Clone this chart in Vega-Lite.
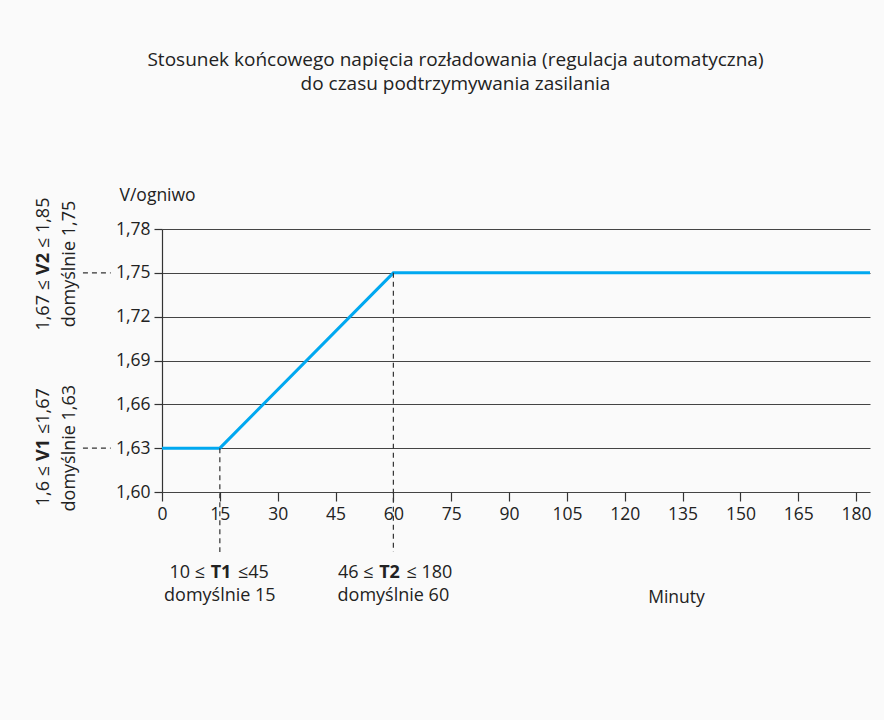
{
  "$schema": "https://vega.github.io/schema/vega-lite/v6.json",
  "autosize": {"type": "none"},
  "width": 708,
  "height": 263,
  "padding": {"left": 162, "top": 229, "right": 14, "bottom": 228},
  "background": "#fafafa",
  "title": {
    "text": ["Stosunek końcowego napięcia rozładowania (regulacja automatyczna)", "do czasu podtrzymywania zasilania"],
    "anchor": "middle",
    "frame": "bounds",
    "font": "Open Sans",
    "fontSize": 19,
    "fontWeight": "normal",
    "color": "#222222",
    "lineHeight": 24,
    "offset": 92
  },
  "config": {
    "view": {"stroke": null},
    "font": "Open Sans",
    "text": {"font": "Open Sans", "fontSize": 18, "color": "#222222"}
  },
  "layer": [
    {
      "data": {"values": [
        {"minuty": 0, "v": 1.63},
        {"minuty": 15, "v": 1.63},
        {"minuty": 60, "v": 1.75},
        {"minuty": 183.6, "v": 1.75}
      ]},
      "mark": {"type": "line", "color": "#00a8f0", "strokeWidth": 3, "clip": false},
      "encoding": {
        "x": {
          "field": "minuty", "type": "quantitative",
          "scale": {"domain": [0, 183.6], "nice": false, "zero": false},
          "axis": {
            "values": [0, 15, 30, 45, 60, 75, 90, 105, 120, 135, 150, 165, 180],
            "grid": false, "domain": false,
            "tickColor": "#333333", "tickSize": 9, "tickWidth": 1.2,
            "labelFont": "Open Sans", "labelFontSize": 17.5, "labelColor": "#222222",
            "labelPadding": 4, "labelFlush": false,
            "title": "Minuty", "titleFont": "Open Sans", "titleFontSize": 17.5, "titleFontWeight": "normal",
            "titleColor": "#222222", "titleX": 514, "titleY": 105, "titleBaseline": "middle", "titleAlign": "center"
          }
        },
        "y": {
          "field": "v", "type": "quantitative",
          "scale": {"domain": [1.6, 1.78], "nice": false, "zero": false},
          "axis": {
            "values": [1.6, 1.63, 1.66, 1.69, 1.72, 1.75, 1.78],
            "labelExpr": "replace(format(datum.value, '.2f'), '.', ',')",
            "grid": true, "gridColor": "#444444", "gridWidth": 1.2,
            "domain": true, "domainColor": "#333333", "domainWidth": 1.2,
            "tickColor": "#333333", "tickSize": 8, "tickWidth": 1.2,
            "labelFont": "Open Sans", "labelFontSize": 17.5, "labelColor": "#222222",
            "labelPadding": 4, "labelFlush": false,
            "title": "V/ogniwo", "titleFont": "Open Sans", "titleFontSize": 17.5, "titleFontWeight": "normal",
            "titleColor": "#222222", "titleAngle": 0, "titleX": -43, "titleY": -34,
            "titleAlign": "left", "titleBaseline": "middle"
          }
        }
      }
    },
    {
      "data": {"values": [
        {"x": 15, "y": 1.63, "y2": 1.559},
        {"x": 60, "y": 1.75, "y2": 1.559}
      ]},
      "mark": {"type": "rule", "strokeDash": [5, 4], "color": "#333333", "strokeWidth": 1.2, "clip": false},
      "encoding": {
        "x": {"field": "x", "type": "quantitative"},
        "y": {"field": "y", "type": "quantitative"},
        "y2": {"field": "y2"}
      }
    },
    {
      "data": {"values": [
        {"y": 1.63, "x": -20.5, "x2": -13.3},
        {"y": 1.75, "x": -20.5, "x2": -13.3}
      ]},
      "mark": {"type": "rule", "strokeDash": [5, 4], "color": "#333333", "strokeWidth": 1.2, "clip": false},
      "encoding": {
        "x": {"field": "x", "type": "quantitative"},
        "x2": {"field": "x2"},
        "y": {"field": "y", "type": "quantitative"}
      }
    },
    {
      "data": {"values": [
        {"t": "domyślnie 15", "x": 15, "y": 1.5288},
        {"t": "domyślnie 60", "x": 60, "y": 1.5288}
      ]},
      "mark": {"type": "text", "align": "center", "baseline": "middle", "clip": false},
      "encoding": {
        "x": {"field": "x", "type": "quantitative"},
        "y": {"field": "y", "type": "quantitative"},
        "text": {"field": "t"}
      }
    },
    {
      "data": {"values": [
        {"t": "T1", "x": 15.3, "y": 1.5446},
        {"t": "T2", "x": 59, "y": 1.5446}
      ]},
      "mark": {"type": "text", "align": "center", "baseline": "middle", "fontWeight": "bold", "clip": false},
      "encoding": {
        "x": {"field": "x", "type": "quantitative"},
        "y": {"field": "y", "type": "quantitative"},
        "text": {"field": "t"}
      }
    },
    {
      "data": {"values": [
        {"t": "10 ≤", "x": 15.3, "y": 1.5446},
        {"t": "46 ≤", "x": 59, "y": 1.5446}
      ]},
      "mark": {"type": "text", "align": "right", "baseline": "middle", "dx": -16, "clip": false},
      "encoding": {
        "x": {"field": "x", "type": "quantitative"},
        "y": {"field": "y", "type": "quantitative"},
        "text": {"field": "t"}
      }
    },
    {
      "data": {"values": [
        {"t": "≤45", "x": 15.3, "y": 1.5446},
        {"t": "≤ 180", "x": 59, "y": 1.5446}
      ]},
      "mark": {"type": "text", "align": "left", "baseline": "middle", "dx": 17, "clip": false},
      "encoding": {
        "x": {"field": "x", "type": "quantitative"},
        "y": {"field": "y", "type": "quantitative"},
        "text": {"field": "t"}
      }
    },
    {
      "data": {"values": [
        {"t": "V2", "x": -30.6, "y": 1.756},
        {"t": "V1", "x": -30.6, "y": 1.6287}
      ]},
      "mark": {"type": "text", "angle": 270, "align": "center", "baseline": "middle", "fontWeight": "bold", "clip": false},
      "encoding": {
        "x": {"field": "x", "type": "quantitative"},
        "y": {"field": "y", "type": "quantitative"},
        "text": {"field": "t"}
      }
    },
    {
      "data": {"values": [
        {"t": "1,67 ≤", "x": -30.6, "y": 1.756},
        {"t": "1,6 ≤", "x": -30.6, "y": 1.6287}
      ]},
      "mark": {"type": "text", "angle": 270, "align": "right", "baseline": "middle", "dx": -16, "clip": false},
      "encoding": {
        "x": {"field": "x", "type": "quantitative"},
        "y": {"field": "y", "type": "quantitative"},
        "text": {"field": "t"}
      }
    },
    {
      "data": {"values": [
        {"t": "≤ 1,85", "x": -30.6, "y": 1.756},
        {"t": "≤1,67", "x": -30.6, "y": 1.6287}
      ]},
      "mark": {"type": "text", "angle": 270, "align": "left", "baseline": "middle", "dx": 16, "clip": false},
      "encoding": {
        "x": {"field": "x", "type": "quantitative"},
        "y": {"field": "y", "type": "quantitative"},
        "text": {"field": "t"}
      }
    },
    {
      "data": {"values": [
        {"t": "domyślnie 1,75", "x": -23.9, "y": 1.756},
        {"t": "domyślnie 1,63", "x": -23.9, "y": 1.63}
      ]},
      "mark": {"type": "text", "angle": 270, "align": "center", "baseline": "middle", "clip": false},
      "encoding": {
        "x": {"field": "x", "type": "quantitative"},
        "y": {"field": "y", "type": "quantitative"},
        "text": {"field": "t"}
      }
    }
  ]
}
